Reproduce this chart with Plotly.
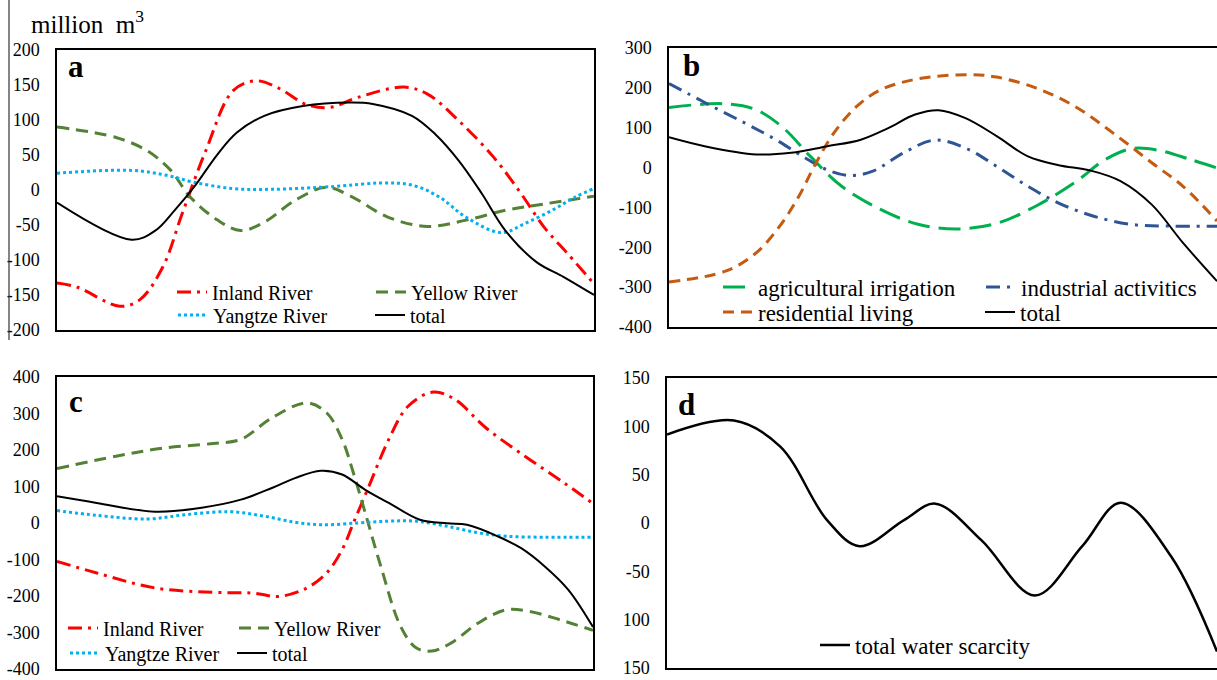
import plotly.graph_objects as go

W, H = 1217, 680
FONT = "Liberation Serif"

# ---------------- Panel a (by river basin) ----------------
a_inland_x = [0, 3.8, 11.7, 15.4, 19.7, 23.3, 27.7, 32.8, 37.1, 41.4, 46.5, 50.9, 55.9, 64.6, 69.0, 74.8, 81.3, 86.4, 90.7, 95.1, 100]
a_inland_y = [-133, -139, -166, -157, -110, -34, 56, 142, 156, 145, 122, 118, 132, 147, 137, 99, 47, -5, -53, -91, -134]
a_yellow_x = [0, 11.0, 16.8, 21.2, 24.8, 29.9, 34.2, 38.6, 44.3, 50.1, 54.5, 61.7, 69.0, 76.2, 83.5, 90.7, 100]
a_yellow_y = [90, 75, 56, 28, -10, -43, -58, -46, -15, 4, -8, -39, -52, -43, -29, -20, -9]
a_yangtze_x = [0, 13.9, 20.4, 25.5, 32.8, 40.0, 51.6, 60.3, 66.1, 71.2, 76.2, 82.8, 87.1, 92.2, 96.5, 100]
a_yangtze_y = [24, 28, 21, 11, 2, 1, 5, 10, 7, -10, -39, -61, -48, -29, -10, 2]
a_total_x = [0, 13.9, 18.3, 21.9, 25.5, 29.9, 33.5, 38.6, 45.8, 54.5, 58.8, 66.1, 70.4, 74.8, 79.1, 83.5, 89.3, 94.3, 100]
a_total_y = [-18, -71, -58, -29, 4, 51, 82, 106, 120, 125, 123, 106, 80, 42, -5, -58, -103, -124, -150]

# ---------------- Panel b (by sector) ----------------
b_agri_x = [0, 10.3, 15.9, 20.9, 25.8, 31.5, 38.6, 45.6, 52.7, 59.8, 66.9, 74.0, 79.6, 84.6, 89.5, 95.2, 100]
b_agri_y = [151, 160, 145, 99, 28, -47, -105, -143, -154, -140, -97, -38, 20, 48, 43, 20, -1]
b_ind_x = [0, 6.7, 13.8, 19.5, 24.4, 28.7, 32.9, 37.2, 42.8, 48.5, 54.1, 59.8, 65.5, 71.1, 77.5, 84.6, 91.7, 100]
b_ind_y = [211, 162, 112, 70, 28, -5, -20, -9, 37, 69, 49, 3, -47, -89, -122, -143, -147, -147]
b_res_x = [0, 10.3, 15.9, 20.2, 23.7, 26.5, 30.1, 34.3, 38.6, 45.6, 54.8, 59.8, 66.9, 74.0, 81.0, 88.1, 93.8, 100]
b_res_y = [-287, -260, -214, -147, -72, 3, 87, 154, 195, 223, 233, 227, 200, 154, 87, 12, -47, -134]
b_total_x = [0, 6.7, 15.9, 22.3, 28.7, 35.0, 40.0, 44.9, 49.2, 54.1, 59.8, 65.5, 71.1, 76.8, 82.4, 88.1, 93.8, 100]
b_total_y = [76, 53, 33, 37, 53, 70, 99, 133, 144, 124, 79, 28, 6, -7, -34, -93, -189, -285]

# ---------------- Panel c (by river basin) ----------------
c_inland_x = [0, 7.4, 18.3, 29.2, 36.5, 41.5, 46.6, 50.3, 53.2, 55.3, 58.2, 61.9, 65.5, 70.2, 74.2, 80.0, 87.3, 94.6, 100]
c_inland_y = [-105, -137, -178, -190, -192, -201, -178, -137, -73, 0, 101, 229, 320, 359, 339, 261, 183, 110, 53]
c_yellow_x = [0, 11.0, 19.8, 29.2, 34.3, 40.1, 46.6, 50.3, 53.2, 55.3, 57.5, 60.4, 64.1, 67.0, 69.9, 73.5, 78.6, 83.7, 88.1, 93.8, 100]
c_yellow_y = [149, 183, 205, 218, 229, 288, 329, 302, 229, 137, 28, -118, -283, -342, -351, -329, -274, -238, -242, -265, -294]
c_yangtze_x = [0, 7.4, 16.8, 24.1, 32.1, 38.6, 44.4, 49.5, 56.1, 61.9, 67.0, 72.8, 78.6, 83.7, 91.0, 100]
c_yangtze_y = [34, 21, 11, 23, 31, 19, 2, -5, 0, 5, 5, -9, -27, -36, -39, -39]
c_total_x = [0, 7.4, 18.3, 27.0, 34.3, 40.1, 44.4, 49.2, 53.2, 57.5, 61.9, 67.7, 72.8, 76.5, 82.3, 86.6, 91.0, 95.4, 100]
c_total_y = [73, 55, 31, 42, 64, 96, 123, 143, 133, 91, 55, 9, -1, -5, -37, -69, -119, -183, -285]

# ---------------- Panel d (total water scarcity) ----------------
d_total_x = [0, 12.2, 20.6, 29.1, 35.0, 43.1, 48.8, 57.2, 66.9, 75.5, 82.5, 91.7, 100]
d_total_y = [91.5, 106, 79, 3, -24, 3, 20, -18, -75, -24, 21, -35, -133]

# tick labels
a_ticks = [200, 150, 100, 50, 0, -50, -100, -150, -200]
b_ticks = [300, 200, 100, 0, -100, -200, -300, -400]
c_ticks = [400, 300, 200, 100, 0, -100, -200, -300, -400]
d_tickvals = [150, 100, 50, 0, -50, -100, -150]
d_ticktext = ["150", "100", "50", "0", "-50", "100", "150"]

RED = "#FF0000"
OLIVE = "#538135"
CYAN = "#00B0F0"
AGRI = "#00B050"
IND = "#2F5597"
RES = "#C55A11"

fig = go.Figure()


def px_x(p):
    return p / W


def px_y(p):
    return 1 - p / H


def add(x, y, name, ax, color, width, dash, leg):
    fig.add_trace(go.Scatter(
        x=x, y=y, name=name, mode="lines",
        line=dict(shape="spline", smoothing=1.0, color=color, width=width, dash=dash),
        xaxis="x" + ax, yaxis="y" + ax, legend=leg, hoverinfo="skip"))


DASHDOT = "14px,6px,3px,6px"
# panel a
add(a_inland_x, a_inland_y, "Inland River", "", RED, 3, DASHDOT, "legend")
add(a_yellow_x, a_yellow_y, "Yellow River", "", OLIVE, 3, "12px,7px", "legend2")
add(a_yangtze_x, a_yangtze_y, "Yangtze River", "", CYAN, 3, "3px,3px", "legend3")
add(a_total_x, a_total_y, "total", "", "black", 2, "solid", "legend4")
# panel b
add(b_agri_x, b_agri_y, "agricultural irrigation", "2", AGRI, 3, "22px,9px", "legend5")
add(b_ind_x, b_ind_y, "industrial activitics", "2", IND, 3, "14px,7px,3px,7px", "legend6")
add(b_res_x, b_res_y, "residential living", "2", RES, 3, "11px,7px", "legend7")
add(b_total_x, b_total_y, "total", "2", "black", 2, "solid", "legend8")
# panel c
add(c_inland_x, c_inland_y, "Inland River", "3", RED, 3, DASHDOT, "legend9")
add(c_yellow_x, c_yellow_y, "Yellow River", "3", OLIVE, 3, "12px,7px", "legend10")
add(c_yangtze_x, c_yangtze_y, "Yangtze River", "3", CYAN, 3, "3px,3px", "legend11")
add(c_total_x, c_total_y, "total", "3", "black", 2, "solid", "legend12")
# panel d
add(d_total_x, d_total_y, "total water scarcity", "4", "black", 2.5, "solid", "legend13")

# legend positions: (text-left px, row-center px, font size)
legend_pos = {
    "legend": (212, 292, 20), "legend2": (411, 292, 20),
    "legend3": (213, 315, 20), "legend4": (410, 315, 20),
    "legend5": (758, 287, 23), "legend6": (1021, 287, 23),
    "legend7": (758, 312, 23), "legend8": (1020, 312, 23),
    "legend9": (103, 628, 20), "legend10": (274, 628, 20),
    "legend11": (105, 653, 20), "legend12": (272, 653, 20),
    "legend13": (855, 645, 23),
}
legends = {}
for key, (tx, cy, fs) in legend_pos.items():
    hgt = fs * 1.3 + 3
    legends[key] = dict(
        x=px_x(tx - 40), y=px_y(cy - 5 - hgt / 2), xanchor="left", yanchor="top",
        bgcolor="rgba(0,0,0,0)", borderwidth=0, itemwidth=30, tracegroupgap=0,
        font=dict(family=FONT, size=fs, color="black"))


def xax(x0, x1, yname):
    return dict(domain=[px_x(x0), min(1, px_x(x1))], range=[0, 100], showticklabels=False,
                ticks="", showgrid=False, zeroline=False, showline=True, linecolor="black",
                linewidth=1.5, mirror=True, anchor=yname, fixedrange=True)


def yax(y0, y1, xname, rng, tickvals, ticktext, mirror=True):
    return dict(domain=[px_y(y1), px_y(y0)], range=rng, tickmode="array", tickvals=tickvals,
                ticktext=ticktext, ticks="", showgrid=False, zeroline=False, showline=True,
                linecolor="black", linewidth=1.5, mirror=mirror, anchor=xname,
                ticklabelstandoff=12, automargin=False,
                tickfont=dict(family=FONT, size=18, color="black"), fixedrange=True)


fig.update_layout(
    width=W, height=H, margin=dict(l=0, r=0, t=0, b=0, pad=0),
    paper_bgcolor="white", plot_bgcolor="white",
    font=dict(family=FONT, color="black"),
    xaxis=xax(57, 594, "y"),
    yaxis=yax(50, 330, "x", [-200, 200], a_ticks, [str(v) for v in a_ticks]),
    xaxis2=xax(669, 1230, "y2"),
    yaxis2=yax(48, 327, "x2", [-400, 300], b_ticks, [str(v) for v in b_ticks], mirror=False),
    xaxis3=xax(57, 593, "y3"),
    yaxis3=yax(377, 669, "x3", [-400, 400], c_ticks, [str(v) for v in c_ticks]),
    xaxis4=xax(667, 1230, "y4"),
    yaxis4=yax(378, 668, "x4", [-150, 150], d_tickvals, d_ticktext, mirror=False),
    showlegend=True,
    **legends,
)

letters = [("a", 76, 67), ("b", 691, 66), ("c", 76, 401), ("d", 686, 404)]
for t, lx, ly in letters:
    fig.add_annotation(text="<b>%s</b>" % t, x=px_x(lx), y=px_y(ly), xref="paper", yref="paper",
                       xanchor="center", yanchor="middle", showarrow=False,
                       font=dict(family=FONT, size=31, color="black"))

fig.add_annotation(text="million  m<sup>3</sup>", x=px_x(29), y=px_y(22), xref="paper", yref="paper",
                   xanchor="left", yanchor="middle", showarrow=False,
                   font=dict(family=FONT, size=25, color="black"))

fig.add_shape(type="line", xref="paper", yref="paper", x0=px_x(9), x1=px_x(9), y0=px_y(0), y1=px_y(340),
              line=dict(color="#333333", width=1.2))

fig.write_html("out.html")
